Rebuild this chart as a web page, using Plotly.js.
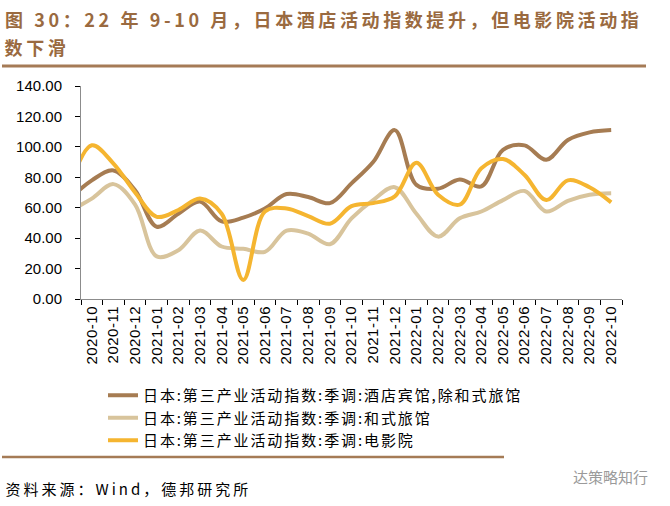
<!DOCTYPE html>
<html>
<head>
<meta charset="utf-8">
<script src="https://cdn.plot.ly/plotly-3.0.1.min.js"></script>
<style>
html,body{margin:0;padding:0;background:#fff;}
#chart{width:670px;height:506px;}
.annotation[data-index="0"] .annotation-text,
.annotation[data-index="1"] .annotation-text{letter-spacing:3.6px;}
.annotation[data-index="2"] .annotation-text{letter-spacing:3px;}
.legendtext{letter-spacing:1.9px;}
.xtick text{letter-spacing:0.5px;}
</style>
</head>
<body>
<div id="chart"></div>
<script>
// Months (the first month lies just left of the visible range; only its stub is visible)
var months = ['2020-09','2020-10','2020-11','2020-12','2021-01','2021-02','2021-03','2021-04','2021-05','2021-06','2021-07','2021-08','2021-09','2021-10','2021-11','2021-12','2022-01','2022-02','2022-03','2022-04','2022-05','2022-06','2022-07','2022-08','2022-09','2022-10'];
var hotelValues = [66,78,84.5,71.5,47.5,56,64,51,53.5,59.5,69,67,63,76,90,111,75,72.5,78.5,74,98,101,91.5,104.5,109.5,111];
var ryokanValues = [58,66,75.5,62,28,32,45,34.5,33,31,45,43,36,53,65,73.5,56,41,53,57.5,65,71,57.5,64.5,68.5,69.5];
var cinemaValues = [75,101,89,70,54,58.5,66,56,12.5,57.5,59.5,54.5,49.5,61,63,67.5,89.5,68.5,62,86,92,81.5,65,78,73.5,63.5];
var seriesNames = ['日本:第三产业活动指数:季调:酒店宾馆,除和式旅馆','日本:第三产业活动指数:季调:和式旅馆','日本:第三产业活动指数:季调:电影院'];
var yTicks = [0,20,40,60,80,100,120,140];
var titleLine1 = '图 30：22 年 9-10 月，日本酒店活动指数提升，但电影院活动指';
var titleLine2 = '数下滑';
var sourceText = '资料来源：Wind，德邦研究所';
var watermark = '达策略知行';

var colors = ['#A67C52','#D8C49C','#F5B530'];
var L = 81, R = 622, T = 86, B = 299, W = 670, H = 506;
function px(x){ return (x - L) / (R - L); }
function py(y){ return (B - y) / (B - T); }

var vals = [hotelValues, ryokanValues, cinemaValues];
var traces = vals.map(function(v, k){
  return {
    x: months, y: v, type: 'scatter', mode: 'lines', name: seriesNames[k],
    line: {color: colors[k], width: 4, shape: 'spline', smoothing: 1},
    hoverinfo: 'skip'
  };
});

// letter-spacing is applied by CSS after Plotly measures the text, so shift by half the added width
function spacingShift(str, ls){ return Array.from(str).length * ls / 2; }

var layout = {
  width: W, height: H,
  margin: {l: L, r: W - R, t: T, b: H - B, pad: 0},
  paper_bgcolor: '#fff', plot_bgcolor: '#fff',
  showlegend: true,
  font: {family: 'Liberation Sans, Arial, sans-serif', color: '#000'},
  xaxis: {
    type: 'category', categoryorder: 'array', categoryarray: months,
    range: [0.5, months.length - 0.5],
    tickson: 'boundaries', ticks: 'outside', ticklen: 5, tickcolor: '#000', tickwidth: 1,
    showline: true, linecolor: '#8c8c8c', linewidth: 1,
    showgrid: false, zeroline: false, tickangle: -90,
    tickfont: {family: 'Liberation Sans, Arial, sans-serif', size: 15, color: '#000'},
    fixedrange: true
  },
  yaxis: {
    range: [0, 140], tickvals: yTicks, tickformat: '.2f',
    ticks: 'outside', ticklen: 5, tickcolor: '#000', tickwidth: 1,
    showline: true, linecolor: '#8c8c8c', linewidth: 1,
    showgrid: false, zeroline: false, ticklabelstandoff: 10,
    tickfont: {family: 'Liberation Sans, Arial, sans-serif', size: 15, color: '#000'},
    fixedrange: true
  },
  legend: {
    x: px(103), y: py(379), xanchor: 'left', yanchor: 'top',
    bgcolor: 'rgba(0,0,0,0)', borderwidth: 0,
    font: {family: 'Noto Sans CJK SC, sans-serif', size: 15, color: '#000'},
    itemwidth: 30
  },
  shapes: [
    {type: 'line', xref: 'paper', yref: 'paper', x0: px(2), x1: px(646), y0: py(66), y1: py(66), line: {color: '#A57B56', width: 3}},
    {type: 'line', xref: 'paper', yref: 'paper', x0: px(2), x1: px(504), y0: py(457), y1: py(457), line: {color: '#A57B56', width: 2.5}}
  ],
  annotations: [
    {text: '<b>' + titleLine1 + '</b>', xref: 'paper', yref: 'paper', x: px(3), y: py(19), xanchor: 'left', yanchor: 'middle', showarrow: false,
     xshift: spacingShift(titleLine1, 3.6),
     font: {family: 'Noto Sans CJK SC, sans-serif', size: 18, color: '#9A6A40'}},
    {text: '<b>' + titleLine2 + '</b>', xref: 'paper', yref: 'paper', x: px(3), y: py(47), xanchor: 'left', yanchor: 'middle', showarrow: false,
     xshift: spacingShift(titleLine2, 3.6),
     font: {family: 'Noto Sans CJK SC, sans-serif', size: 18, color: '#9A6A40'}},
    {text: sourceText, xref: 'paper', yref: 'paper', x: px(3), y: py(488), xanchor: 'left', yanchor: 'middle', showarrow: false,
     xshift: spacingShift(sourceText, 3),
     font: {family: 'Noto Sans CJK SC, sans-serif', size: 15, color: '#000'}},
    {text: watermark, xref: 'paper', yref: 'paper', x: px(650), y: py(476), xanchor: 'right', yanchor: 'middle', showarrow: false,
     font: {family: 'Noto Sans CJK SC, sans-serif', size: 15, color: '#9a9a9a'}}
  ]
};

Plotly.newPlot('chart', traces, layout, {staticPlot: true, displayModeBar: false});
</script>
</body>
</html>
